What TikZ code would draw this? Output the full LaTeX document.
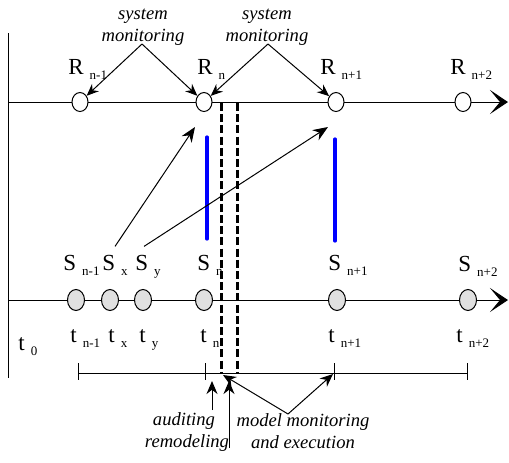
\documentclass[tikz,border=0pt]{standalone}
\usepackage{fontspec}
\setmainfont{Liberation Serif}
\newfontfamily\tms{Liberation Serif}
\usetikzlibrary{positioning, shapes.geometric, arrows.meta}
\usepackage{xcolor}
\definecolor{mblue}{HTML}{0000FF}
\newcommand{\lblsub}[2]{#1\hspace{3pt}\raisebox{-2.5pt}{\fontsize{6.5}{7}\selectfont #2}}

\begin{document}
\begin{tikzpicture}[x=0.5pt, y=-0.5pt,
    rn/.style={ellipse, draw, line width=0.5pt, fill=white, inner sep=0pt, minimum width=8pt, minimum height=9.5pt},
    sn/.style={rn, fill=black!12, minimum width=8.5pt, minimum height=10.5pt},
    lb/.style={font=\tms\fontsize{11.5}{13}\selectfont, inner sep=0pt, anchor=base west},
    note/.style={font=\tms\fontsize{9.3}{11.2}\selectfont\itshape, align=center, inner sep=0pt},
    timeline/.style={line width=0.5pt, -{Stealth[length=9pt, width=12pt, inset=5pt]}},
    mon/.style={line width=0.5pt, -{Stealth[length=6pt, width=5pt]}},
    big/.style={line width=0.5pt, -{Stealth[length=7.5pt, width=6pt]}},
    hd/.style={line width=0.5pt, -{Stealth[length=6.5pt, width=5.5pt]}},
    cut/.style={line width=1.5pt, dash pattern=on 4pt off 1.6pt},
    bar/.style={line width=1.6pt, mblue, line cap=round}]
  \useasboundingbox (0,0) rectangle (509,462);

  % axes
  \coordinate (o) at (8,33);
  \coordinate (ob) at (8,378);
  \coordinate (r0) at (8,102);
  \coordinate (rend) at (508,102);
  \coordinate (s0) at (8,300);
  \coordinate (send) at (508,300);
  \draw[line width=0.5pt] (o) -- (ob);
  \draw[timeline] (r0) -- (rend);
  \draw[timeline] (s0) -- (send);

  % cut lines and blue bars
  \coordinate (c1t) at (221,103);
  \coordinate (c1b) at (221,373);
  \coordinate (c2t) at (237,103);
  \coordinate (c2b) at (237,373);
  \draw[cut] (c1t) -- (c1b);
  \draw[cut] (c2t) -- (c2b);
  \coordinate (b1t) at (207,137);
  \coordinate (b1b) at (207,239);
  \coordinate (b2t) at (335,139);
  \coordinate (b2b) at (335,241);
  \draw[bar] (b1t) -- (b1b);
  \draw[bar] (b2t) -- (b2b);

  % R states
  \node[rn] (R1) at (80,102) {};
  \node[rn] (R2) at (204,102) {};
  \node[rn] (R3) at (336,102) {};
  \node[rn] (R4) at (463,102) {};
  \node[lb] (lR1) at (68,74) {\lblsub{R}{n-1}};
  \node[lb] (lR2) at (197,74) {\lblsub{R}{n}};
  \node[lb] (lR3) at (320,74) {\lblsub{R}{n+1}};
  \node[lb] (lR4) at (450,74) {\lblsub{R}{n+2}};

  % S states
  \node[sn] (S1) at (76,300) {};
  \node[sn] (Sx) at (110,300) {};
  \node[sn] (Sy) at (143,300) {};
  \node[sn] (S2) at (204,300) {};
  \node[sn] (S3) at (337,300) {};
  \node[sn] (S4) at (468,300) {};
  \node[lb] (lS1) at (63,270) {\lblsub{S}{n-1}};
  \node[lb] (lSx) at (102,270) {\lblsub{S}{x}};
  \node[lb] (lSy) at (135,270) {\lblsub{S}{y}};
  \node[lb] (lS2) at (197,270) {\lblsub{S}{n}};
  \node[lb] (lS3) at (328,270) {\lblsub{S}{n+1}};
  \node[lb] (lS4) at (458,271) {\lblsub{S}{n+2}};

  % times
  \node[lb] (t0) at (18,350) {\lblsub{t}{0}};
  \node[lb] (t1) at (70,342) {\lblsub{t}{n-1}};
  \node[lb] (tx) at (108,342) {\lblsub{t}{x}};
  \node[lb] (ty) at (139,342) {\lblsub{t}{y}};
  \node[lb] (t2) at (200,342) {\lblsub{t}{n}};
  \node[lb] (t3) at (328,342) {\lblsub{t}{n+1}};
  \node[lb] (t4) at (456,342) {\lblsub{t}{n+2}};

  % interval
  \coordinate (i1) at (78,373);
  \coordinate (i2) at (205,373);
  \coordinate (i3) at (334,373);
  \coordinate (i4) at (467,373);
  \draw[line width=0.5pt] (i1) -- (i4);
  \foreach \p in {i1,i2,i3,i4}
    \draw[line width=0.5pt] ([yshift=5pt]\p) -- ([yshift=-3.5pt]\p);

  % system monitoring
  \node[note] (sm1) at (143,27) {system\\monitoring};
  \node[note] (sm2) at (267,27) {system\\monitoring};
  \coordinate (sm1a) at (142,44);
  \coordinate (sm2a) at (268,44);
  \draw[mon] (sm1a) -- (R1);
  \draw[mon] (sm1a) -- (R2);
  \draw[mon] (sm2a) -- (R2);
  \draw[mon] (sm2a) -- (R3);

  % S_x, S_y
  \coordinate (hx) at (195,127);
  \coordinate (hy) at (328,127);
  \draw[big] ([yshift=4pt]lSx.north) -- (hx);
  \draw[big] ([xshift=-2pt, yshift=4pt]lSy.north) -- (hy);

  % bottom notes
  \node[note, anchor=base] (aud) at (184,425) {auditing};
  \node[note, anchor=base] (rem) at (187,447) {remodeling};
  \node[note] (mme) at (303,431) {model monitoring\\and execution};
  \coordinate (audt) at (212,410);
  \coordinate (audh) at (212,381);
  \coordinate (remt) at (229,448);
  \coordinate (remh) at (229,381);
  \coordinate (mma) at (288,414);
  \coordinate (mmh1) at (223,375);
  \coordinate (mmh2) at (333,374);
  \draw[hd] (audt) -- (audh);
  \draw[hd] (remt) -- (remh);
  \draw[hd] (mma) -- (mmh1);
  \draw[hd] (mma) -- (mmh2);
\end{tikzpicture}
\end{document}
